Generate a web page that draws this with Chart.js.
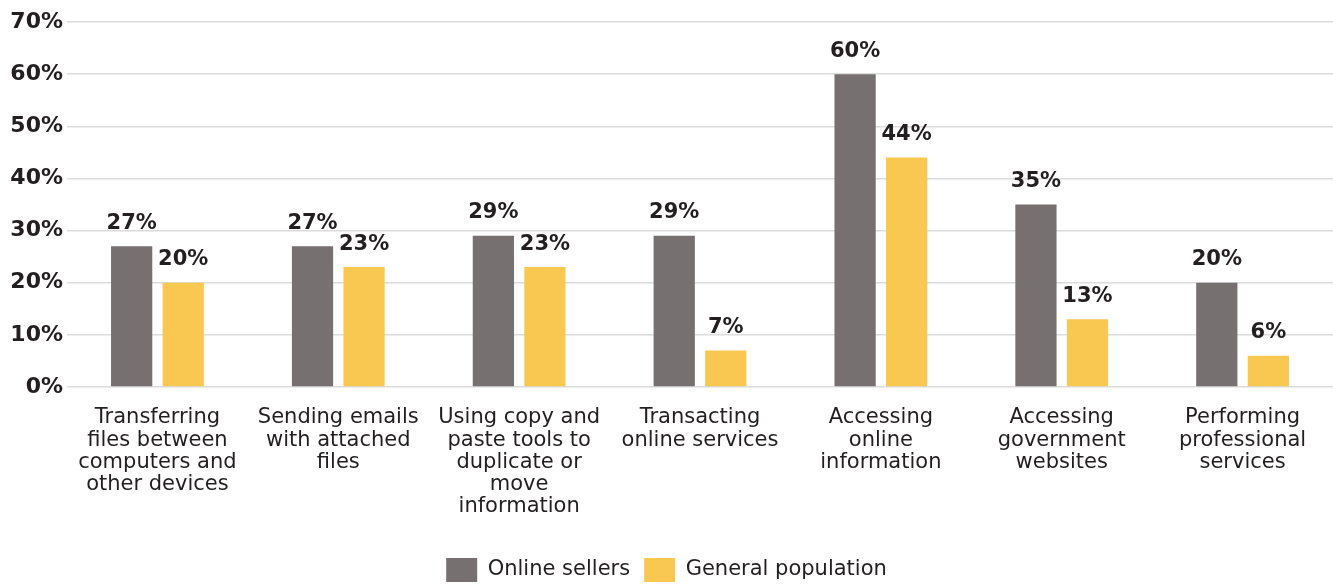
<!DOCTYPE html>
<html>
<head>
<meta charset="utf-8">
<script src="https://cdn.jsdelivr.net/npm/chart.js@4/dist/chart.umd.min.js"></script>
<style>
  html, body { margin: 0; padding: 0; background: #fff; }
  #wrap { width: 1333px; height: 584px; }
</style>
</head>
<body>
<div id="wrap"><canvas id="usageChart"></canvas></div>
<script>
const CATEGORIES = [
  ['Transferring', 'files between', 'computers and', 'other devices'],
  ['Sending emails', 'with attached', 'files'],
  ['Using copy and', 'paste tools to', 'duplicate or', 'move', 'information'],
  ['Transacting', 'online services'],
  ['Accessing', 'online', 'information'],
  ['Accessing', 'government', 'websites'],
  ['Performing', 'professional', 'services'],
];
const SELLERS = [27, 27, 29, 29, 60, 35, 20];
const GENERAL = [20, 23, 23, 7, 44, 13, 6];
const Y_MAX = 70;
const Y_STEP = 10;

const TEXT = '#231f20';
const FONT = "'DejaVu Sans', sans-serif";

// percent labels above each bar
const valueLabels = {
  id: 'valueLabels',
  afterDatasetsDraw(chart) {
    const ctx = chart.ctx;
    ctx.save();
    ctx.fillStyle = TEXT;
    ctx.font = `bold 21px ${FONT}`;
    ctx.textAlign = 'center';
    ctx.textBaseline = 'middle';
    chart.data.datasets.forEach((ds, i) => {
      chart.getDatasetMeta(i).data.forEach((bar, j) => {
        ctx.fillText(ds.data[j] + '%', bar.x, bar.y - 23);
      });
    });
    ctx.restore();
  },
};

new Chart(document.getElementById('usageChart'), {
  type: 'bar',
  data: {
    labels: CATEGORIES,
    datasets: [
      {
        label: 'Online sellers',
        data: SELLERS,
        backgroundColor: '#767170',
        barPercentage: 0.8,
        categoryPercentage: 0.57,
      },
      {
        label: 'General population',
        data: GENERAL,
        backgroundColor: '#f9c851',
        barPercentage: 0.8,
        categoryPercentage: 0.57,
      },
    ],
  },
  options: {
    responsive: true,
    maintainAspectRatio: false,
    animation: false,
    layout: { padding: { top: 22, right: 0, left: 0, bottom: -8 } },
    plugins: {
      tooltip: { enabled: false },
      legend: {
        position: 'bottom',
        labels: {
          color: TEXT,
          font: { family: FONT, size: 21 },
          boxWidth: 31,
          boxHeight: 24,
          padding: 14,
        },
      },
    },
    scales: {
      x: {
        grid: { display: false },
        border: { display: false },
        ticks: {
          color: TEXT,
          font: { family: FONT, size: 21, lineHeight: 1.05 },
          maxRotation: 0,
          autoSkip: false,
          padding: 12,
        },
        afterFit(scale) { scale.height = 157; },
      },
      y: {
        min: 0,
        max: Y_MAX,
        border: { display: false },
        grid: { color: '#dcdcdc', drawTicks: false, lineWidth: 1.5 },
        ticks: {
          stepSize: Y_STEP,
          color: TEXT,
          font: { family: FONT, size: 22, weight: 'bold' },
          padding: 4,
          callback: v => v + '%',
        },
        afterFit(scale) { scale.width = 67; },
      },
    },
  },
  plugins: [valueLabels],
});
</script>
</body>
</html>
